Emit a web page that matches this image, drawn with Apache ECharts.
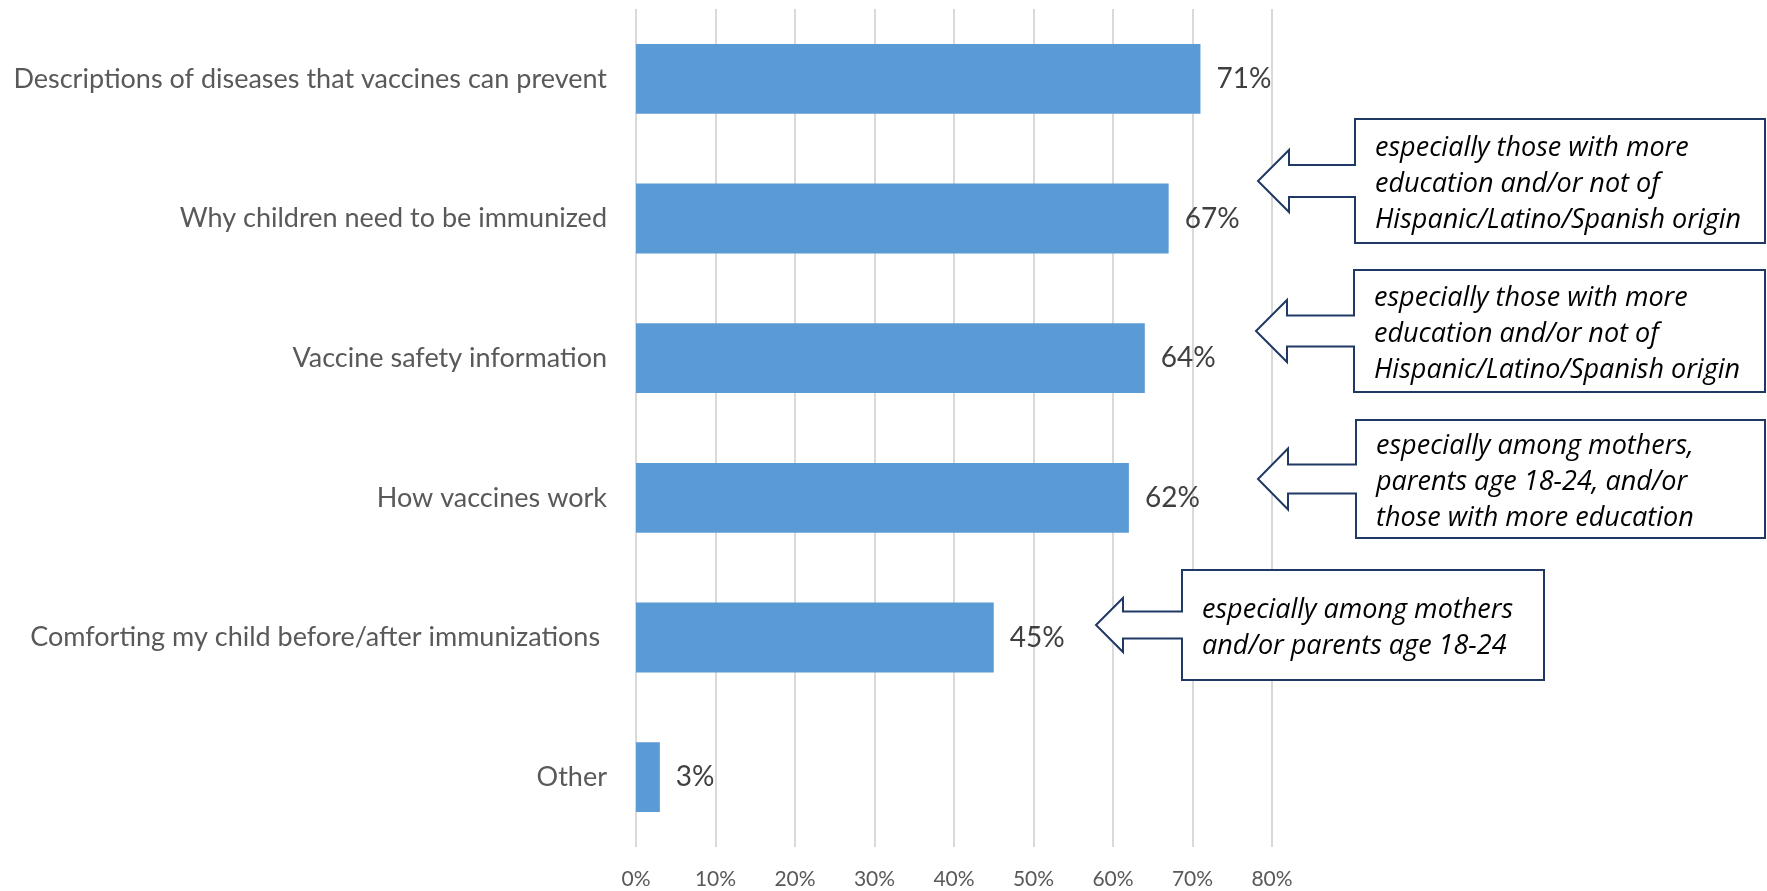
<!DOCTYPE html>
<html>
<head>
<meta charset="utf-8">
<title>Vaccine information topics</title>
<script src="https://cdn.jsdelivr.net/npm/echarts@6/dist/echarts.min.js"></script>
<style>
  html, body { margin: 0; padding: 0; background: #ffffff; }
  #chart { width: 1767px; height: 891px; }
</style>
</head>
<body>
<div id="chart"></div>
<script>
// Topics parents want information about, share of respondents (%)
const categories = [
  'Descriptions of diseases that vaccines can prevent',
  'Why children need to be immunized',
  'Vaccine safety information',
  'How vaccines work',
  'Comforting my child before/after immunizations ',
  'Other'
];
const shares = [71, 67, 64, 62, 45, 3];
const axisTicks = [0, 10, 20, 30, 40, 50, 60, 70, 80];

// Notes attached to some of the topics
const noteTexts = [
  ['especially those with more', 'education and/or not of', 'Hispanic/Latino/Spanish origin'],
  ['especially those with more', 'education and/or not of', 'Hispanic/Latino/Spanish origin'],
  ['especially among mothers,', 'parents age 18-24, and/or', 'those with more education'],
  ['especially among mothers', 'and/or parents age 18-24']
];

// Geometry of the arrow callouts (pixels)
const noteBoxes = [
  { left: 1355, right: 1765, top: 119, bottom: 243, tipX: 1258, headX: 1289, headHalf: 31, shaftHalf: 16 },
  { left: 1354, right: 1765, top: 270, bottom: 392, tipX: 1256, headX: 1287, headHalf: 31, shaftHalf: 15.5 },
  { left: 1356, right: 1765, top: 420, bottom: 538, tipX: 1258, headX: 1288, headHalf: 30.5, shaftHalf: 14.5 },
  { left: 1182, right: 1544, top: 570, bottom: 680, tipX: 1096, headX: 1123, headHalf: 27, shaftHalf: 13.5 }
];

const FONT = 'Lato, "Noto Sans", sans-serif';
const NOTE_FONT = '"Open Sans", "Noto Sans", sans-serif';

function calloutGraphics() {
  const out = [];
  noteBoxes.forEach(function (b, i) {
    const cy = (b.top + b.bottom) / 2;
    out.push({
      type: 'polygon',
      z: 10,
      shape: {
        points: [
          [b.left, b.top], [b.right, b.top], [b.right, b.bottom], [b.left, b.bottom],
          [b.left, cy + b.shaftHalf], [b.headX, cy + b.shaftHalf], [b.headX, cy + b.headHalf],
          [b.tipX, cy], [b.headX, cy - b.headHalf], [b.headX, cy - b.shaftHalf],
          [b.left, cy - b.shaftHalf]
        ]
      },
      style: { fill: '#ffffff', stroke: '#1f3864', lineWidth: 2 }
    });
    out.push({
      type: 'text',
      z: 11,
      x: b.left + 20,
      y: cy + 3,
      style: {
        text: noteTexts[i].join('\n'),
        fill: '#000000',
        font: 'italic 27px ' + NOTE_FONT,
        lineHeight: 36,
        verticalAlign: 'middle',
        align: 'left'
      }
    });
  });
  return out;
}

const chart = echarts.init(document.getElementById('chart'), null, { renderer: 'canvas' });
chart.setOption({
  animation: false,
  backgroundColor: '#ffffff',
  grid: { left: 636, right: 495, top: 9, bottom: 44, containLabel: false },
  xAxis: {
    type: 'value',
    min: axisTicks[0],
    max: axisTicks[axisTicks.length - 1],
    interval: axisTicks[1] - axisTicks[0],
    axisLine: { show: false },
    axisTick: { show: false },
    splitLine: { show: true, lineStyle: { color: '#d9d9d9', width: 2 } },
    axisLabel: {
      formatter: '{value}%',
      color: '#595959',
      fontFamily: FONT,
      fontSize: 21,
      margin: 22
    }
  },
  yAxis: {
    type: 'category',
    inverse: true,
    data: categories,
    axisLine: { show: false },
    axisTick: { show: false },
    splitLine: { show: false },
    axisLabel: {
      color: '#595959',
      fontFamily: FONT,
      fontSize: 27,
      margin: 29
    }
  },
  series: [{
    type: 'bar',
    data: shares,
    barCategoryGap: '50%',
    itemStyle: { color: '#5b9bd5' },
    label: {
      show: true,
      position: 'right',
      distance: 16,
      formatter: '{c}%',
      color: '#404040',
      fontFamily: FONT,
      fontSize: 28
    }
  }],
  graphic: calloutGraphics()
});
</script>
</body>
</html>
